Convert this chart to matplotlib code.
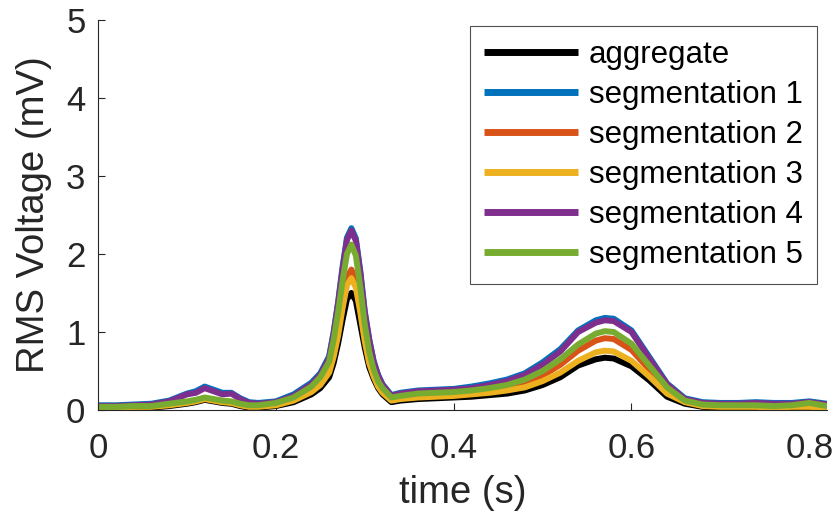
import matplotlib.pyplot as plt

# -----------------------------
# Data
# -----------------------------

time = [0.00, 0.02, 0.04, 0.06, 0.08, 0.10, 0.11, 0.12, 0.13, 0.14,
        0.15, 0.16, 0.17, 0.18, 0.20, 0.22, 0.24, 0.25, 0.26, 0.265,
        0.27, 0.275, 0.28, 0.285, 0.29, 0.295, 0.30, 0.305, 0.31, 0.315,
        0.32, 0.33, 0.34, 0.36, 0.38, 0.40, 0.42, 0.44, 0.46, 0.48,
        0.50, 0.52, 0.54, 0.56, 0.57, 0.58, 0.60, 0.62, 0.64, 0.66,
        0.68, 0.70, 0.72, 0.74, 0.76, 0.78, 0.80, 0.82]

aggregate = [0.02, 0.02, 0.03, 0.03, 0.05, 0.08, 0.10, 0.13, 0.11, 0.09,
             0.08, 0.05, 0.03, 0.03, 0.05, 0.10, 0.20, 0.28, 0.42, 0.60,
             0.85, 1.15, 1.42, 1.50, 1.40, 1.10, 0.80, 0.55, 0.40, 0.28,
             0.20, 0.10, 0.12, 0.14, 0.15, 0.16, 0.17, 0.19, 0.21, 0.25,
             0.32, 0.42, 0.57, 0.65, 0.67, 0.66, 0.56, 0.38, 0.17, 0.08,
             0.04, 0.03, 0.03, 0.03, 0.02, 0.03, 0.03, 0.02]

seg1 = [0.06, 0.06, 0.07, 0.08, 0.12, 0.21, 0.24, 0.30, 0.26, 0.22,
        0.22, 0.15, 0.10, 0.09, 0.11, 0.20, 0.35, 0.47, 0.69, 1.00,
        1.38, 1.83, 2.21, 2.33, 2.20, 1.78, 1.27, 0.91, 0.63, 0.45,
        0.33, 0.19, 0.22, 0.25, 0.26, 0.27, 0.30, 0.34, 0.39, 0.47,
        0.61, 0.78, 1.02, 1.15, 1.18, 1.17, 1.02, 0.68, 0.34, 0.15,
        0.10, 0.09, 0.09, 0.10, 0.09, 0.09, 0.11, 0.08]

seg2 = [0.03, 0.03, 0.04, 0.05, 0.07, 0.10, 0.12, 0.15, 0.13, 0.11,
        0.10, 0.07, 0.05, 0.05, 0.07, 0.13, 0.25, 0.35, 0.52, 0.74,
        1.02, 1.40, 1.70, 1.80, 1.67, 1.33, 0.93, 0.64, 0.45, 0.32,
        0.24, 0.13, 0.15, 0.18, 0.19, 0.20, 0.22, 0.25, 0.29, 0.35,
        0.44, 0.58, 0.76, 0.89, 0.92, 0.91, 0.77, 0.52, 0.26, 0.11,
        0.06, 0.05, 0.05, 0.05, 0.04, 0.05, 0.05, 0.04]

seg3 = [0.03, 0.03, 0.04, 0.04, 0.06, 0.09, 0.11, 0.14, 0.12, 0.10,
        0.09, 0.06, 0.04, 0.04, 0.06, 0.12, 0.23, 0.32, 0.48, 0.68,
        0.95, 1.30, 1.60, 1.69, 1.57, 1.25, 0.88, 0.60, 0.43, 0.30,
        0.22, 0.12, 0.14, 0.16, 0.17, 0.18, 0.20, 0.22, 0.25, 0.29,
        0.37, 0.48, 0.63, 0.74, 0.76, 0.75, 0.63, 0.43, 0.21, 0.10,
        0.05, 0.04, 0.04, 0.04, 0.03, 0.04, 0.04, 0.03]

seg4 = [0.05, 0.05, 0.06, 0.07, 0.11, 0.20, 0.22, 0.28, 0.24, 0.20,
        0.21, 0.14, 0.09, 0.08, 0.10, 0.18, 0.33, 0.45, 0.67, 0.98,
        1.36, 1.80, 2.18, 2.30, 2.17, 1.76, 1.25, 0.90, 0.62, 0.44,
        0.32, 0.18, 0.21, 0.24, 0.25, 0.26, 0.28, 0.32, 0.37, 0.45,
        0.58, 0.75, 1.00, 1.12, 1.15, 1.14, 1.00, 0.66, 0.33, 0.14,
        0.09, 0.08, 0.08, 0.09, 0.08, 0.08, 0.10, 0.07]

seg5 = [0.04, 0.04, 0.05, 0.05, 0.08, 0.11, 0.13, 0.16, 0.14, 0.12,
        0.11, 0.08, 0.06, 0.06, 0.09, 0.16, 0.30, 0.42, 0.62, 0.90,
        1.25, 1.65, 2.00, 2.12, 1.98, 1.58, 1.10, 0.75, 0.52, 0.37,
        0.28, 0.16, 0.18, 0.21, 0.22, 0.23, 0.25, 0.28, 0.32, 0.39,
        0.50, 0.65, 0.84, 0.98, 1.01, 1.00, 0.85, 0.57, 0.29, 0.12,
        0.07, 0.06, 0.06, 0.06, 0.05, 0.06, 0.09, 0.05]

series = [aggregate, seg1, seg2, seg3, seg4, seg5]
labels = ["aggregate", "segmentation 1", "segmentation 2",
          "segmentation 3", "segmentation 4", "segmentation 5"]
colors = ["#000000", "#0072BD", "#D95319", "#EDB120", "#7E2F8E", "#77AC30"]

x_ticks = [0, 0.2, 0.4, 0.6, 0.8]
x_tick_labels = ["0", "0.2", "0.4", "0.6", "0.8"]
y_ticks = [0, 1, 2, 3, 4, 5]

# -----------------------------
# Plot
# -----------------------------

plt.rcParams["font.family"] = ["Liberation Sans", "DejaVu Sans"]

fig = plt.figure(figsize=(8.39, 5.21), dpi=100)
ax = fig.add_axes([0.1168, 0.2131, 0.869, 0.7486])

for y, lab, c in zip(series, labels, colors):
    ax.plot(time, y, color=c, linewidth=4.3, label=lab,
            solid_joinstyle="round", solid_capstyle="butt")

ax.set_xlim(0, 0.82)
ax.set_ylim(0, 5)
ax.set_xticks(x_ticks)
ax.set_xticklabels(x_tick_labels)
ax.set_yticks(y_ticks)

axis_gray = "#262626"
for side in ["top", "right"]:
    ax.spines[side].set_visible(False)
for side in ["left", "bottom"]:
    ax.spines[side].set_color(axis_gray)
    ax.spines[side].set_linewidth(0.8)

ax.tick_params(direction="in", length=5, width=0.8, colors=axis_gray,
               labelsize=25)
ax.tick_params(axis="x", pad=16)
ax.tick_params(axis="y", pad=9)

ax.set_xlabel("time (s)", fontsize=27.5, color=axis_gray, labelpad=7)
ax.set_ylabel("RMS Voltage (mV)", fontsize=27.5, color=axis_gray, labelpad=10)

leg = ax.legend(loc="upper right", bbox_to_anchor=(0.986, 0.985),
                borderaxespad=0, fontsize=22.5, frameon=True,
                fancybox=False, handlelength=3.0, handletextpad=0.35,
                borderpad=0.45, labelspacing=0.32)
leg.get_frame().set_edgecolor(axis_gray)
leg.get_frame().set_linewidth(0.8)
for line in leg.get_lines():
    line.set_linewidth(5)

fig.savefig("out.png", dpi=100)
